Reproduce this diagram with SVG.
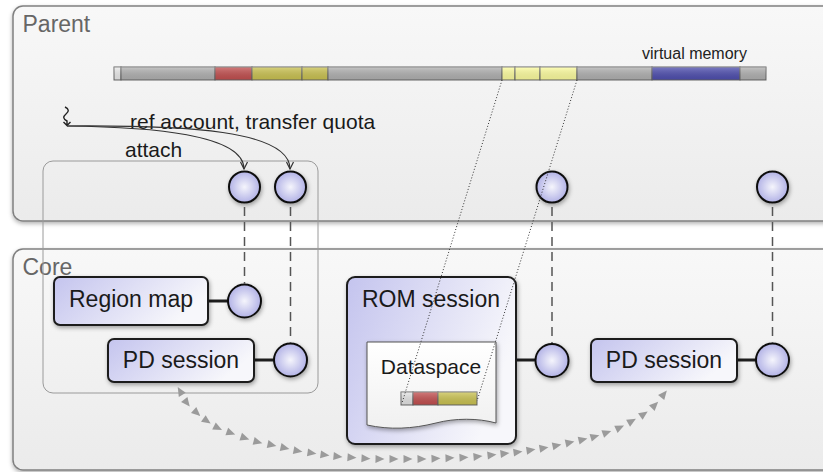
<svg xmlns="http://www.w3.org/2000/svg" width="823" height="472" viewBox="0 0 823 472">
<defs>
<style>
text{font-family:"Liberation Sans",Arial,Helvetica,sans-serif;fill:#1a1a1a}
.title{font-size:23px;fill:#666}
.lbl{font-size:23px}
.sm{font-size:21px}
.vm{font-size:16px;fill:#222}
.area{fill:url(#bgP);stroke:#808080;stroke-width:1.5;filter:url(#shB)}
.box{fill:url(#boxg);stroke:#1e1e1e;stroke-width:2;filter:url(#sh)}
.port{fill:url(#portg);stroke:#111;stroke-width:2;filter:url(#sh)}
.stub{stroke:#1e1e1e;stroke-width:3}
.dash{stroke:#555;stroke-width:1.5;stroke-dasharray:9 6;fill:none}
.dot{stroke:#333;stroke-width:1;stroke-dasharray:1 2;fill:none}
.seg{stroke:#666;stroke-width:1}
.call{fill:none;stroke:#333;stroke-width:1.2;marker-end:url(#arr)}
.trail{fill:none;stroke:none;marker-start:url(#tris);marker-mid:url(#tri);marker-end:url(#tri)}
</style>
<linearGradient id="bgP" x1="0" y1="0" x2="0" y2="1"><stop offset="0" stop-color="#f8f8f8"/><stop offset="1" stop-color="#ebebeb"/></linearGradient>
<linearGradient id="boxg" x1="0" y1="0" x2="1" y2="0.35"><stop offset="0" stop-color="#c4c4ee"/><stop offset="1" stop-color="#f7f7fb"/></linearGradient>
<radialGradient id="portg" cx="0.5" cy="0.5" r="0.5"><stop offset="0" stop-color="#f5f5fc"/><stop offset="1" stop-color="#b2b2e6"/></radialGradient>
<linearGradient id="docg" x1="0" y1="0" x2="0" y2="1"><stop offset="0" stop-color="#ffffff"/><stop offset="1" stop-color="#f0f0f0"/></linearGradient>
<linearGradient id="gloss" x1="0" y1="0" x2="0" y2="1"><stop offset="0" stop-color="#fff" stop-opacity="0.25"/><stop offset="1" stop-color="#000" stop-opacity="0.1"/></linearGradient>
<filter id="sh" x="-30%" y="-30%" width="160%" height="160%"><feDropShadow dx="1" dy="2" stdDeviation="2" flood-color="#000" flood-opacity="0.35"/></filter>
<filter id="shB" x="-5%" y="-5%" width="110%" height="115%"><feDropShadow dx="0" dy="2" stdDeviation="2" flood-color="#000" flood-opacity="0.3"/></filter>
<marker id="arr" markerUnits="userSpaceOnUse" markerWidth="10" markerHeight="10" viewBox="0 0 10 10" refX="9" refY="5" orient="auto"><path d="M2,1.5 L9,5 L2,8.5" fill="none" stroke="#333" stroke-width="1.2"/></marker>
<marker id="tri" markerUnits="userSpaceOnUse" markerWidth="11" markerHeight="11" viewBox="0 0 11 11" refX="5.5" refY="5.5" orient="auto"><path d="M1,1.5 L10,5.5 L1,9.5 z" fill="#9b9b9b"/></marker>
<marker id="tris" markerUnits="userSpaceOnUse" markerWidth="11" markerHeight="11" viewBox="0 0 11 11" refX="5.5" refY="5.5" orient="auto-start-reverse"><path d="M1,1.5 L10,5.5 L1,9.5 z" fill="#9b9b9b"/></marker>
</defs>

<g id="parent">
<rect class="area" x="13" y="6" width="830" height="215" rx="10"/>
<text class="title" x="22.5" y="32">Parent</text>
</g>
<g id="core">
<rect class="area" x="13" y="249" width="830" height="221" rx="10"/>
<text class="title" x="22.5" y="275">Core</text>
</g>
<g id="pd-scope">
<rect x="43" y="161" width="275" height="232" rx="10" fill="none" stroke="#9a9a9a" stroke-width="1"/>
</g>

<g id="vmem">
<rect class="seg" x="114" y="67" width="7" height="13" fill="#ececec"/>
<rect class="seg" x="121" y="67" width="94" height="13" fill="#b2b2b2"/>
<rect class="seg" x="215" y="67" width="37" height="13" fill="#c45050"/>
<rect class="seg" x="252" y="67" width="50" height="13" fill="#ccc452"/>
<rect class="seg" x="302" y="67" width="26" height="13" fill="#ccc452"/>
<rect class="seg" x="328" y="67" width="174" height="13" fill="#b2b2b2"/>
<rect class="seg" x="502" y="67" width="13" height="13" fill="#ffffa0"/>
<rect class="seg" x="515" y="67" width="25" height="13" fill="#ffffa0"/>
<rect class="seg" x="540" y="67" width="37" height="13" fill="#ffffa0"/>
<rect class="seg" x="577" y="67" width="75" height="13" fill="#b2b2b2"/>
<rect class="seg" x="652" y="67" width="88" height="13" fill="#4f4fb0"/>
<rect class="seg" x="740" y="67" width="26" height="13" fill="#b2b2b2"/>
<rect x="114" y="67" width="652" height="13" fill="url(#gloss)"/>
<text class="vm" x="642" y="59">virtual memory</text>
</g>

<g id="thread">
<path d="M65,107 Q71,110 66,114 Q61,118 67,121 L67,125.5 M63.5,122 L67,125.5 L70.5,122" fill="none" stroke="#222" stroke-width="1.4"/>
<text class="sm" x="130" y="129">ref account, transfer quota</text>
<text class="sm" x="125" y="157">attach</text>
</g>

<g id="parent-cap1"><circle class="port" cx="244.5" cy="187" r="15.5"/></g>
<g id="parent-cap2"><circle class="port" cx="290.5" cy="187" r="15.5"/></g>
<g id="parent-cap3"><circle class="port" cx="552" cy="187" r="15.5"/></g>
<g id="parent-cap4"><circle class="port" cx="772.5" cy="187" r="15.5"/></g>

<g id="region-map">
<line class="stub" x1="207" y1="301" x2="228" y2="301"/>
<rect class="box" x="54" y="277" width="154" height="48" rx="6"/>
<text class="lbl" x="131" y="307" text-anchor="middle">Region map</text>
<circle class="port" cx="244.5" cy="301" r="16.5"/>
</g>

<g id="pd-session-1">
<line class="stub" x1="253" y1="360" x2="274" y2="360"/>
<rect class="box" x="108" y="339" width="146" height="43" rx="6"/>
<text class="lbl" x="181" y="368" text-anchor="middle">PD session</text>
<circle class="port" cx="290.5" cy="360" r="16.5"/>
</g>

<g id="rom-session">
<line class="stub" x1="515" y1="360" x2="536" y2="360"/>
<rect class="box" x="347" y="277" width="169" height="167" rx="8"/>
<text class="lbl" x="362" y="307">ROM session</text>
<circle class="port" cx="552" cy="360.5" r="16.5"/>
</g>

<g id="dataspace">
<path d="M367,342 H496 V423 C478,418 455,418 436,423 C412,429 390,430 367,425 Z" fill="url(#docg)" stroke="#555" stroke-width="1" filter="url(#sh)"/>
<text class="sm" x="431" y="374" text-anchor="middle">Dataspace</text>
<rect class="seg" x="401" y="392" width="12" height="13" fill="#e6e6e6"/>
<rect class="seg" x="413" y="392" width="25" height="13" fill="#c45050"/>
<rect class="seg" x="438" y="392" width="39" height="13" fill="#ccc452"/>
<rect x="401" y="392" width="76" height="13" fill="url(#gloss)"/>
</g>

<g id="pd-session-2">
<line class="stub" x1="736" y1="360" x2="757" y2="360"/>
<rect class="box" x="591" y="339" width="146" height="43" rx="6"/>
<text class="lbl" x="664" y="368" text-anchor="middle">PD session</text>
<circle class="port" cx="772.5" cy="360" r="16.5"/>
</g>

<g id="connectors">
<line class="dash" x1="244.5" y1="207" x2="244.5" y2="284"/>
<line class="dash" x1="290.5" y1="207" x2="290.5" y2="343"/>
<line class="dash" x1="552" y1="207" x2="552" y2="343"/>
<line class="dash" x1="772.5" y1="207" x2="772.5" y2="343"/>
<path class="call" d="M67,126 C150,127 244,134 244,169"/>
<path class="call" d="M67,126 C185,125 290,130 290,169"/>
<path class="dot" d="M502,80 L402,403"/>
<path class="dot" d="M577,80 L477,401"/>
<polyline class="trail" points="180,391 187,403 197,413 207,421 218,428 231,433 245,438 258,442 272,445 285,448 298,451 312,453 325,455 338,456.5 352,457.5 366,458.5 380,459 394,459 408,459 422,459 436,458.5 450,458 464,457.5 478,456.5 492,455 505,453.5 518,452 531,450 544,448 557,445.5 570,442.5 583,439.5 595,436.5 607,432.5 620,427.5 632,421 644,414 655,405 664,394"/>
</g>
</svg>
